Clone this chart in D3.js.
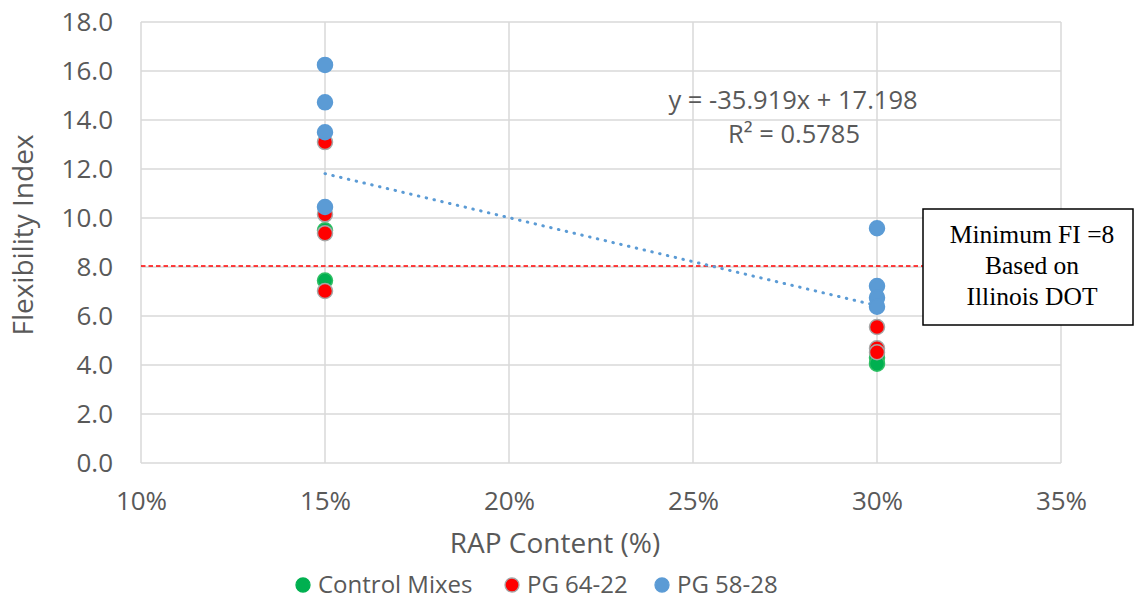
<!DOCTYPE html>
<html><head><meta charset="utf-8">
<script src="https://cdn.jsdelivr.net/npm/d3@7"></script>
<style>body{margin:0;background:#fff}svg{display:block}</style>
</head><body>
<svg id="c" width="1135" height="600"></svg>
<script>
const xTicks = [0.10, 0.15, 0.20, 0.25, 0.30, 0.35];
const yTicks = [0, 2, 4, 6, 8, 10, 12, 14, 16, 18];
const controlX = [0.15, 0.15, 0.30, 0.30];
const controlY = [9.5, 7.45, 4.3, 4.05];
const pg6422X = [0.15, 0.15, 0.15, 0.15, 0.30, 0.30, 0.30];
const pg6422Y = [13.1, 10.15, 9.38, 7.02, 5.55, 4.68, 4.52];
const pg5828X = [0.15, 0.15, 0.15, 0.15, 0.30, 0.30, 0.30, 0.30];
const pg5828Y = [16.25, 14.72, 13.5, 10.45, 9.58, 7.22, 6.75, 6.38];
const trendSlope = -35.919, trendIntercept = 17.198, trendR2 = 0.5785;
const trendRange = [0.15, 0.30];
const minFI = 8;
const seriesNames = ["Control Mixes", "PG 64-22", "PG 58-28"];

const svg = d3.select("#c");
const L = 141, R = 1061, T = 22, B = 463;
const x = d3.scaleLinear().domain([0.10, 0.35]).range([L, R]);
const y = d3.scaleLinear().domain([0, 18]).range([B, T]);
const font = "'Open Sans', 'Noto Sans', sans-serif";
const grey = "#595959";

// grid
svg.append("g").selectAll("line").data(yTicks).join("line")
  .attr("x1", L).attr("x2", R).attr("y1", d => y(d)).attr("y2", d => y(d))
  .attr("stroke", "#d9d9d9").attr("stroke-width", 1.5);
svg.append("g").selectAll("line").data(xTicks).join("line")
  .attr("y1", T).attr("y2", B).attr("x1", d => x(d)).attr("x2", d => x(d))
  .attr("stroke", "#d9d9d9").attr("stroke-width", 1.5);

// axes labels
const yAxis = d3.axisLeft(y).tickValues(yTicks).tickFormat(d3.format(".1f")).tickSize(0).tickPadding(28);
const gy = svg.append("g").attr("transform", `translate(${L},0)`).call(yAxis);
gy.select(".domain").remove();
gy.selectAll("text").attr("font-family", font).attr("font-size", 26).attr("fill", grey);
const xAxis = d3.axisBottom(x).tickValues(xTicks).tickFormat(d3.format(".0%")).tickSize(0).tickPadding(29);
const gx = svg.append("g").attr("transform", `translate(0,${B})`).call(xAxis);
gx.select(".domain").remove();
gx.selectAll("text").attr("font-family", font).attr("font-size", 26).attr("fill", grey);

svg.append("text").attr("transform", `translate(33,235) rotate(-90)`)
  .attr("text-anchor", "middle").attr("font-family", font).attr("font-size", 28).attr("fill", grey)
  .text("Flexibility Index");
svg.append("text").attr("x", 555).attr("y", 553).attr("text-anchor", "middle")
  .attr("font-family", font).attr("font-size", 28).attr("fill", grey).text("RAP Content (%)");

// minimum FI line
svg.append("line").attr("x1", L).attr("x2", R).attr("y1", y(minFI) - 1).attr("y2", y(minFI) - 1)
  .attr("stroke", "#ff0000").attr("stroke-width", 1.4).attr("stroke-dasharray", "4.5 3");

// trendline
svg.append("line")
  .attr("x1", x(trendRange[0])).attr("y1", y(trendSlope*trendRange[0] + trendIntercept))
  .attr("x2", x(trendRange[1])).attr("y2", y(trendSlope*trendRange[1] + trendIntercept))
  .attr("stroke", "#5b9bd5").attr("stroke-width", 3).attr("stroke-linecap", "round")
  .attr("stroke-dasharray", "0.5 7.5");

// points
function pts(xs, ys, fill, stroke) {
  svg.append("g").selectAll("circle").data(xs.map((d, i) => [d, ys[i]])).join("circle")
    .attr("cx", d => x(d[0])).attr("cy", d => y(d[1])).attr("r", 7.5)
    .attr("fill", fill).attr("stroke", stroke).attr("stroke-width", 1.5);
}
pts(controlX, controlY, "#00b050", "#2fbf64");
pts(pg6422X, pg6422Y, "#ff0000", "#a6a6a6");
pts(pg5828X, pg5828Y, "#5b9bd5", "#5b9bd5");

// equation
svg.append("text").attr("x", 793).attr("y", 109).attr("text-anchor", "middle")
  .attr("font-family", font).attr("font-size", 25.5).attr("fill", grey)
  .text(`y = ${trendSlope}x + ${trendIntercept}`);
svg.append("text").attr("x", 794).attr("y", 143).attr("text-anchor", "middle")
  .attr("font-family", font).attr("font-size", 25.5).attr("fill", grey)
  .text(`R² = ${trendR2}`);

// annotation box
svg.append("rect").attr("x", 923).attr("y", 209).attr("width", 210).attr("height", 116)
  .attr("fill", "#fff").attr("stroke", "#000").attr("stroke-width", 1.5);
const boxLines = ["Minimum FI =8", "Based on", "Illinois DOT"];
svg.append("g").selectAll("text").data(boxLines).join("text")
  .attr("x", 1032).attr("y", (d, i) => 243 + i * 31).attr("text-anchor", "middle")
  .attr("font-family", "'Liberation Serif', 'Times New Roman', serif").attr("font-size", 25.5).attr("fill", "#000")
  .text(d => d);

// legend
const legColors = [["#00b050", "#00b050"], ["#ff0000", "#a6a6a6"], ["#5b9bd5", "#5b9bd5"]];
const legX = [303, 512, 662];
const lg = svg.append("g");
seriesNames.forEach((n, i) => {
  lg.append("circle").attr("cx", legX[i]).attr("cy", 585).attr("r", 7)
    .attr("fill", legColors[i][0]).attr("stroke", legColors[i][1]).attr("stroke-width", 1.3);
  lg.append("text").attr("x", legX[i] + 15).attr("y", 593).attr("font-family", font)
    .attr("font-size", 24).attr("fill", grey).text(n);
});
</script>
</body></html>
